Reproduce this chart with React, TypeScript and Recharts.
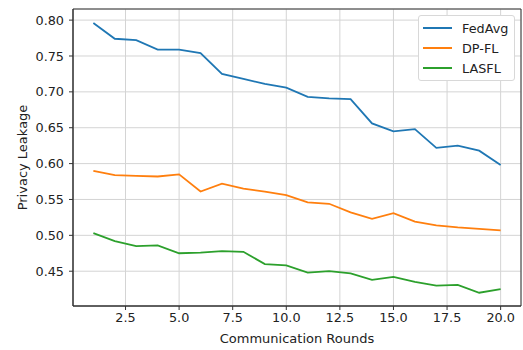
import { LineChart, Line, XAxis, YAxis, CartesianGrid, ReferenceArea } from "recharts";

const rounds = [1, 2, 3, 4, 5, 6, 7, 8, 9, 10, 11, 12, 13, 14, 15, 16, 17, 18, 19, 20];
const fedAvg = [0.796, 0.774, 0.772, 0.759, 0.759, 0.754, 0.725, 0.718, 0.711, 0.706, 0.693, 0.691, 0.690, 0.656, 0.645, 0.648, 0.622, 0.625, 0.618, 0.598];
const dpFl = [0.590, 0.584, 0.583, 0.582, 0.585, 0.561, 0.572, 0.565, 0.561, 0.556, 0.546, 0.544, 0.532, 0.523, 0.531, 0.519, 0.514, 0.511, 0.509, 0.507];
const lasfl = [0.503, 0.492, 0.485, 0.486, 0.475, 0.476, 0.478, 0.477, 0.460, 0.458, 0.448, 0.450, 0.447, 0.438, 0.442, 0.435, 0.430, 0.431, 0.420, 0.425];

const xTicks = [2.5, 5, 7.5, 10, 12.5, 15, 17.5, 20];
const yTicks = [0.45, 0.5, 0.55, 0.6, 0.65, 0.7, 0.75, 0.8];

const series = [
  { key: "fedAvg", name: "FedAvg", color: "#1f77b4" },
  { key: "dpFl", name: "DP-FL", color: "#ff7f0e" },
  { key: "lasfl", name: "LASFL", color: "#2ca02c" },
];

const data = rounds.map((r, i) => ({ round: r, fedAvg: fedAvg[i], dpFl: dpFl[i], lasfl: lasfl[i] }));

const FONT = "DejaVu Sans, sans-serif";
const X_DOMAIN = [0.05, 20.95];
const Y_DOMAIN = [0.4015, 0.8155];

// legend drawn as an overlay so it doesn't eat plot space
const LegendBox = () => (
  <div style={{ position: "absolute", top: 15, left: 418, width: 97, boxSizing: "border-box", border: "1px solid #d8d8d8", borderRadius: 3, background: "#fff", padding: "2px 0 2px 4px", fontFamily: FONT, fontSize: 12.8, color: "#222" }}>
    {series.map(s => (
      <div key={s.key} style={{ display: "flex", alignItems: "center", height: 20 }}>
        <span style={{ display: "inline-block", width: 29, height: 2, background: s.color, marginRight: 10 }} />
        {s.name}
      </div>
    ))}
  </div>
);

const App = () => {
  return (
    <div style={{ position: "absolute", left: 0, top: 0, width: 523, height: 350, background: "#fff" }}>
      <LineChart width={523} height={350} data={data} margin={{ top: 9, right: 2, bottom: 0, left: 0 }}>
        <CartesianGrid stroke="#d4d4d4" strokeWidth={1} />
        <XAxis
          dataKey="round"
          type="number"
          domain={X_DOMAIN}
          ticks={xTicks}
          allowDataOverflow
          tickFormatter={(v: number) => v.toFixed(1)}
          height={44}
          tickSize={4}
          tickMargin={3}
          stroke="#333"
          tick={{ fill: "#222", fontSize: 12.8, fontFamily: FONT }}
          label={{ value: "Communication Rounds", position: "center", dy: 10, fill: "#222", fontSize: 13, fontFamily: FONT }}
        />
        <YAxis
          type="number"
          domain={Y_DOMAIN}
          ticks={yTicks}
          allowDataOverflow
          tickFormatter={(v: number) => v.toFixed(2)}
          width={73}
          tickSize={4}
          tickMargin={5}
          stroke="#333"
          tick={{ fill: "#222", fontSize: 12.8, fontFamily: FONT }}
          label={{ value: "Privacy Leakage", angle: -90, position: "center", dx: -14, fill: "#222", fontSize: 13, fontFamily: FONT }}
        />
        <ReferenceArea x1={X_DOMAIN[0]} x2={X_DOMAIN[1]} y1={Y_DOMAIN[0]} y2={Y_DOMAIN[1]} fill="none" stroke="#333" strokeWidth={1} />
        {series.map(s => (
          <Line key={s.key} dataKey={s.key} name={s.name} stroke={s.color} strokeWidth={1.8} dot={false} isAnimationActive={false} />
        ))}
      </LineChart>
      <LegendBox />
    </div>
  );
};

export default App;
